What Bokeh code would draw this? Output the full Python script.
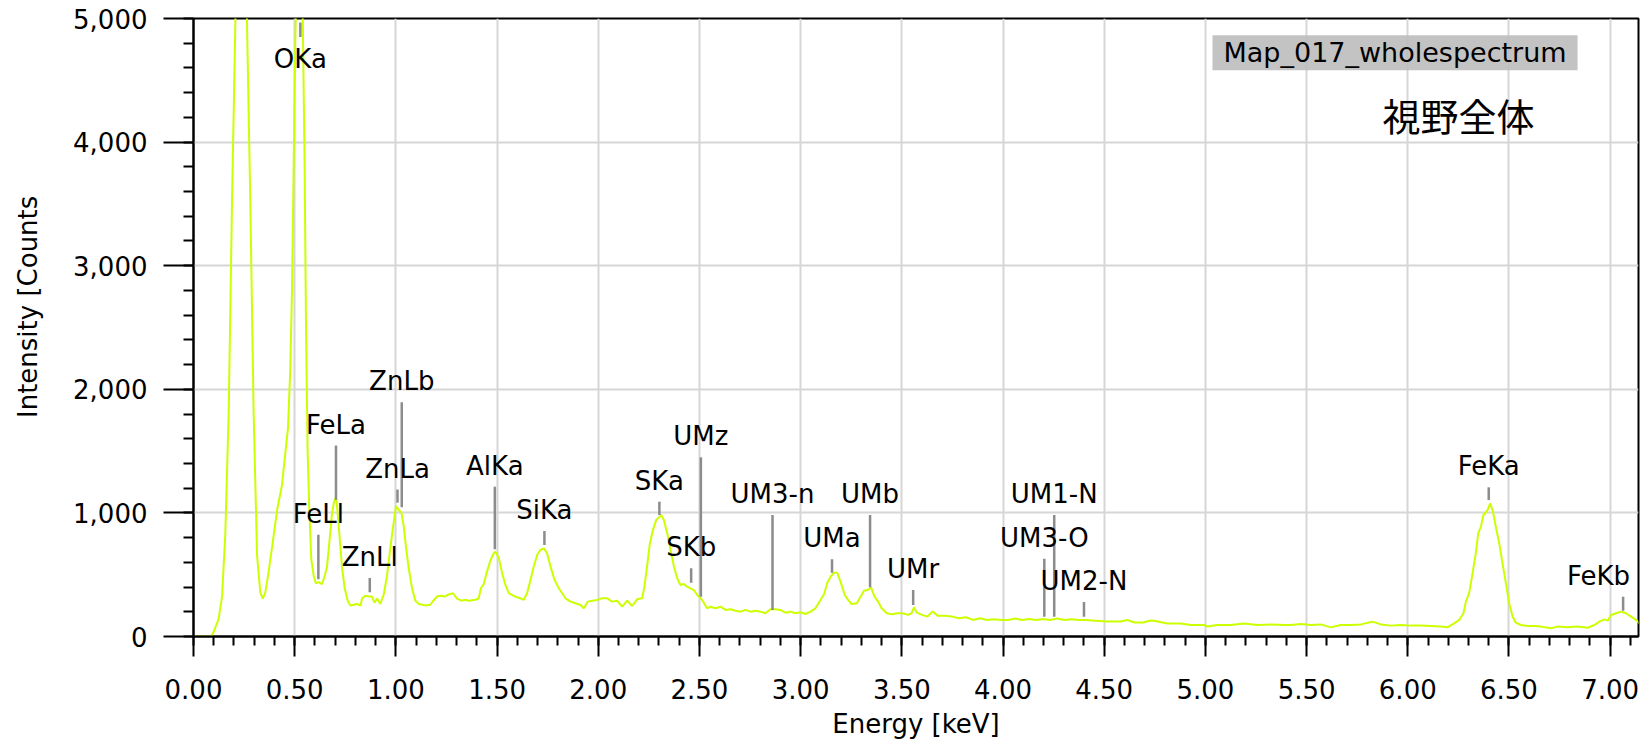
from bokeh.plotting import figure
from bokeh.models import (ColumnDataSource, FixedTicker, NumeralTickFormatter, Label, Range1d,
                          LinearAxis, CustomJSTickFormatter)
from bokeh.embed import file_html
from bokeh.resources import INLINE
from bokeh.core.properties import value

# ---------------- data ----------------
energy_kev = [
    0.000, 0.050, 0.088, 0.100, 0.124, 0.141, 0.157, 0.174, 0.190, 0.207, 0.237, 0.264,
    0.281, 0.297, 0.314, 0.330, 0.342, 0.355, 0.371, 0.391, 0.413, 0.437, 0.454, 0.467,
    0.478, 0.487, 0.495, 0.503, 0.525, 0.540, 0.549, 0.556, 0.564, 0.573, 0.582, 0.594,
    0.605, 0.619, 0.635, 0.648, 0.659, 0.671, 0.684, 0.694, 0.704, 0.709, 0.721, 0.734,
    0.747, 0.762, 0.775, 0.792, 0.808, 0.825, 0.833, 0.849, 0.866, 0.882, 0.894, 0.907,
    0.923, 0.940, 0.956, 0.973, 0.989, 1.001, 1.014, 1.027, 1.039, 1.050, 1.063, 1.080,
    1.096, 1.113, 1.132, 1.149, 1.170, 1.182, 1.203, 1.220, 1.241, 1.261, 1.282, 1.302,
    1.324, 1.343, 1.360, 1.392, 1.409, 1.420, 1.434, 1.450, 1.467, 1.483, 1.492, 1.508,
    1.525, 1.541, 1.558, 1.574, 1.590, 1.615, 1.632, 1.648, 1.665, 1.681, 1.698, 1.714,
    1.731, 1.747, 1.764, 1.784, 1.805, 1.822, 1.838, 1.863, 1.887, 1.912, 1.929, 1.948,
    1.970, 1.995, 2.019, 2.044, 2.069, 2.093, 2.118, 2.143, 2.168, 2.192, 2.217, 2.228,
    2.241, 2.255, 2.270, 2.286, 2.300, 2.311, 2.324, 2.341, 2.357, 2.374, 2.390, 2.406,
    2.423, 2.439, 2.456, 2.472, 2.489, 2.513, 2.538, 2.554, 2.579, 2.604, 2.629, 2.653,
    2.678, 2.703, 2.728, 2.752, 2.777, 2.802, 2.826, 2.851, 2.876, 2.900, 2.925, 2.950,
    2.974, 2.999, 3.024, 3.049, 3.073, 3.098, 3.115, 3.131, 3.148, 3.164, 3.181, 3.200,
    3.218, 3.235, 3.252, 3.278, 3.296, 3.313, 3.331, 3.348, 3.365, 3.383, 3.400, 3.426,
    3.452, 3.478, 3.504, 3.530, 3.548, 3.560, 3.574, 3.600, 3.626, 3.652, 3.678, 3.713,
    3.748, 3.782, 3.817, 3.852, 3.886, 3.921, 3.956, 3.990, 4.025, 4.060, 4.094, 4.129,
    4.164, 4.199, 4.233, 4.268, 4.303, 4.337, 4.372, 4.407, 4.442, 4.476, 4.511, 4.546,
    4.580, 4.615, 4.650, 4.693, 4.728, 4.746, 4.812, 4.878, 4.927, 4.993, 5.010, 5.059,
    5.125, 5.191, 5.257, 5.323, 5.389, 5.422, 5.471, 5.521, 5.570, 5.619, 5.669, 5.718,
    5.768, 5.825, 5.867, 5.916, 5.966, 6.015, 6.064, 6.114, 6.163, 6.196, 6.229, 6.254,
    6.275, 6.287, 6.303, 6.320, 6.336, 6.348, 6.361, 6.374, 6.394, 6.407, 6.419, 6.435,
    6.452, 6.468, 6.485, 6.501, 6.518, 6.534, 6.559, 6.592, 6.625, 6.658, 6.707, 6.740,
    6.790, 6.839, 6.889, 6.922, 6.947, 6.971, 6.988, 7.004, 7.029, 7.054, 7.078, 7.103,
    7.128, 7.144,
]
counts = [
    0, 0, 0, 40, 140, 323, 823, 1821, 3485, 4983, 9000, 5000,
    3485, 1821, 656, 357, 307, 357, 523, 756, 1023, 1222, 1488, 1688,
    2154, 2820, 3818, 4816, 6500, 4983, 3818, 2488, 1488, 989, 623, 490,
    430, 440, 423, 490, 556, 756, 989, 1089, 1128, 1056, 823, 556,
    390, 290, 250, 257, 263, 250, 307, 330, 323, 323, 273, 307,
    263, 340, 490, 723, 922, 1056, 1023, 1006, 889, 723, 556, 390,
    290, 263, 257, 250, 257, 283, 323, 330, 323, 340, 350, 307,
    290, 297, 290, 297, 307, 390, 423, 523, 615, 672, 685, 640,
    511, 417, 350, 336, 323, 309, 296, 350, 458, 565, 659, 700,
    713, 673, 565, 458, 390, 350, 309, 282, 269, 255, 228, 282,
    290, 296, 309, 309, 282, 290, 241, 290, 247, 301, 309, 403,
    565, 753, 861, 942, 964, 983, 942, 834, 700, 565, 471, 417,
    425, 403, 390, 376, 336, 296, 228, 241, 228, 241, 215, 220,
    209, 201, 215, 201, 209, 201, 188, 220, 220, 215, 193, 201,
    188, 196, 182, 201, 228, 296, 340, 431, 484, 515, 516, 430,
    336, 295, 263, 269, 322, 370, 376, 397, 322, 282, 228, 188,
    180, 188, 188, 175, 188, 236, 193, 175, 161, 202, 167, 167,
    161, 148, 156, 134, 148, 134, 140, 134, 134, 145, 134, 142,
    134, 142, 134, 145, 134, 140, 134, 134, 129, 126, 121, 121,
    121, 134, 113, 113, 129, 128, 106, 106, 93, 93, 80, 93,
    93, 106, 93, 98, 93, 93, 101, 93, 98, 74, 93, 93,
    98, 120, 98, 88, 93, 88, 88, 85, 80, 74, 106, 134,
    188, 282, 349, 511, 673, 834, 888, 983, 1023, 1077, 1023, 888,
    753, 591, 430, 268, 160, 112, 93, 85, 85, 80, 66, 80,
    74, 80, 71, 93, 120, 139, 128, 174, 188, 201, 188, 161,
    134, 106,
]

# identified lines: name, energy, marker top / bottom (counts)
line_names = ["FeLl", "FeLa", "ZnLl", "ZnLa", "ZnLb", "AlKa", "SiKa", "SKa", "SKb",
              "UMz", "UM3-n", "UMa", "UMb", "UMr", "UM3-O", "UM1-N", "UM2-N", "FeKa"]
line_energy = [0.617, 0.704, 0.871, 1.008, 1.029, 1.489, 1.734, 2.302, 2.459,
               2.507, 2.861, 3.155, 3.343, 3.556, 4.204, 4.253, 4.400, 6.400]
line_top = [823, 1545, 473, 1189, 1895, 1212, 854, 1091, 552,
            1450, 983, 625, 983, 376, 629, 983, 279, 1207]
line_bottom = [464, 1106, 357, 1083, 1046, 706, 740, 983, 435,
               322, 214, 516, 398, 255, 160, 160, 160, 1104]

# line whose peak is off-scale (label placed below the marker)
top_name = ["OKa"]
top_energy = [0.528]
top_top = [4967]
top_bottom = [4850]

# line labelled to the left (right edge of the chart)
edge_name = ["FeKb"]
edge_energy = [7.064]
edge_top = [322]
edge_bottom = [209]

x_major_ticks = [0.0, 0.5, 1.0, 1.5, 2.0, 2.5, 3.0, 3.5, 4.0, 4.5, 5.0, 5.5, 6.0, 6.5, 7.0]
x_long_ticks = [0.0, 1.0, 2.0, 3.0, 4.0, 5.0, 6.0, 7.0]
y_major_ticks = [0, 1000, 2000, 3000, 4000, 5000]

X_MAX = 7.14
Y_MAX = 5000

# ---------------- figure ----------------
W, H = 1645, 746
FONT = "DejaVu Sans"
FS = "26px"
LABEL_LIFT = -21

p = figure(width=W, height=H, output_backend="svg", toolbar_location=None,
           x_range=Range1d(0, X_MAX), y_range=Range1d(0, Y_MAX),
           min_border_left=193, min_border_right=7,
           min_border_top=18, min_border_bottom=110,
           background_fill_color="white", border_fill_color="white")
p.outline_line_color = "black"
p.outline_line_width = 2

x_minor = [round(i * 0.1, 1) for i in range(0, 72)]
y_minor = [i * 200 for i in range(0, 26)]
p.xaxis.ticker = FixedTicker(ticks=x_major_ticks, minor_ticks=x_minor)
p.yaxis.ticker = FixedTicker(ticks=y_major_ticks, minor_ticks=y_minor)
p.xaxis.formatter = NumeralTickFormatter(format="0.00")
p.yaxis.formatter = NumeralTickFormatter(format="0,0")

for ax in (p.xaxis, p.yaxis):
    ax.axis_line_color = "black"
    ax.axis_line_width = 2
    ax.major_tick_line_color = "black"
    ax.major_tick_line_width = 2
    ax.minor_tick_line_color = "black"
    ax.minor_tick_line_width = 2
    ax.major_tick_in = 0
    ax.minor_tick_in = 0
    ax.major_label_text_font = FONT
    ax.major_label_text_font_size = FS
    ax.major_label_text_color = "black"
    ax.axis_label_text_font = FONT
    ax.axis_label_text_font_size = FS
    ax.axis_label_text_font_style = "normal"
    ax.axis_label_text_color = "black"

p.xaxis.major_tick_out = 20
p.xaxis.minor_tick_out = 9
p.xaxis.major_label_standoff = 22
p.xaxis.axis_label = "Energy [keV]"
p.xaxis.axis_label_standoff = 7

p.yaxis.major_tick_out = 30
p.yaxis.minor_tick_out = 10
p.yaxis.major_label_standoff = 16
# the title sits a little above the middle of the axis in the original
p.yaxis.axis_label = "\u00a0" * 5 + "Intensity [Counts"
p.yaxis.axis_label_standoff = 27

p.xgrid.ticker = FixedTicker(ticks=x_major_ticks)
p.ygrid.ticker = FixedTicker(ticks=y_major_ticks)
for g in (p.xgrid, p.ygrid):
    g.grid_line_color = "#d6d6d6"
    g.grid_line_width = 2

# longer ticks at whole keV values: tick-only axis pinned to the zero line
long_ax = LinearAxis(ticker=FixedTicker(ticks=x_long_ticks, minor_ticks=[]),
                     formatter=CustomJSTickFormatter(code="return ''"),
                     fixed_location=0, axis_line_color=None,
                     minor_tick_line_color=None,
                     major_tick_in=29, major_tick_out=0,
                     major_tick_line_color="black", major_tick_line_width=2,
                     major_label_standoff=0, major_label_text_font_size="1px")
p.add_layout(long_ax, "above")

# spectrum
spec = ColumnDataSource(dict(energy=energy_kev, counts=counts))
p.line("energy", "counts", source=spec, line_color="#ccff00", line_width=2)

# identification markers
mk = ColumnDataSource(dict(name=line_names, e=line_energy, top=line_top, bottom=line_bottom))
p.segment(x0="e", y0="bottom", x1="e", y1="top", source=mk,
          line_color="#8c8c8c", line_width=2.5)
p.text(x="e", y="top", text="name", source=mk, text_font=value(FONT),
       text_font_size=FS, text_color="black", text_align="center",
       text_baseline="alphabetic", y_offset=LABEL_LIFT)

mk_top = ColumnDataSource(dict(name=top_name, e=top_energy, top=top_top, bottom=top_bottom))
p.segment(x0="e", y0="bottom", x1="e", y1="top", source=mk_top,
          line_color="#8c8c8c", line_width=2.5)
p.text(x="e", y="bottom", text="name", source=mk_top, text_font=value(FONT),
       text_font_size=FS, text_color="black", text_align="center",
       text_baseline="alphabetic", y_offset=22)

mk_edge = ColumnDataSource(dict(name=edge_name, e=edge_energy, top=edge_top, bottom=edge_bottom))
p.segment(x0="e", y0="bottom", x1="e", y1="top", source=mk_edge,
          line_color="#8c8c8c", line_width=2.5)
p.text(x="e", y="top", text="name", source=mk_edge, text_font=value(FONT),
       text_font_size=FS, text_color="black", text_align="right",
       text_baseline="alphabetic", y_offset=LABEL_LIFT, x_offset=7)

# spectrum name box and title
p.add_layout(Label(x=5.937, y=4722, text="Map_017_wholespectrum",
                   text_align="center", text_baseline="middle",
                   text_font=FONT, text_font_size="27px", text_color="black",
                   background_fill_color="#bdbdbd", background_fill_alpha=0.9,
                   padding=(11, 2)))
p.add_layout(Label(x=6.25, y=4227, text="視野全体",
                   text_align="center", text_baseline="middle",
                   text_font="Noto Sans CJK JP", text_font_size="38px",
                   text_color="black"))

open("out.html", "w").write(file_html(p, INLINE))
